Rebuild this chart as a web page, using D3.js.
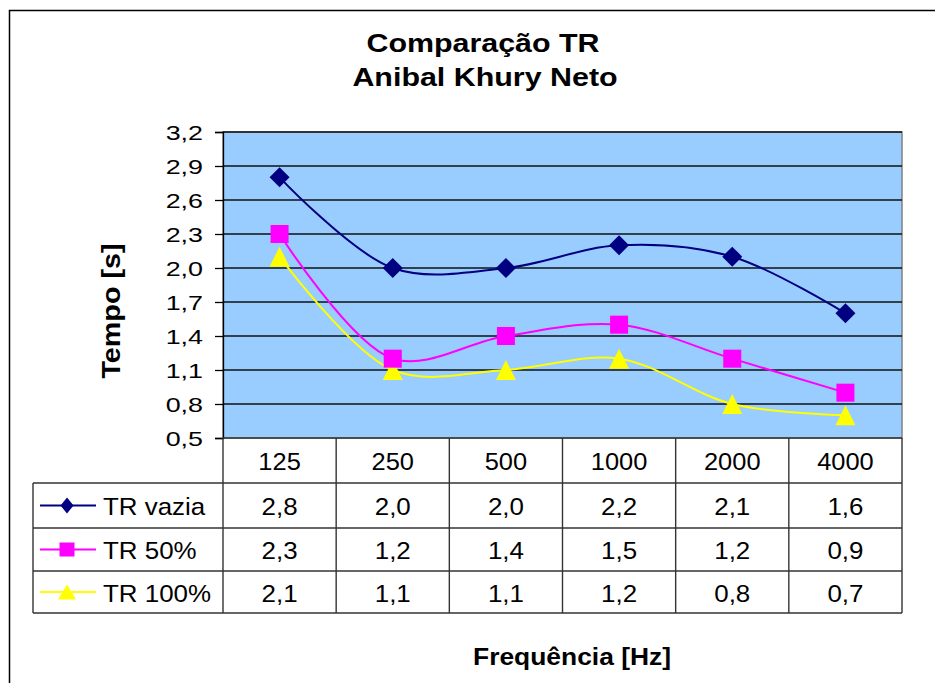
<!DOCTYPE html>
<html>
<head>
<meta charset="utf-8">
<title>Comparação TR</title>
<script src="https://cdn.jsdelivr.net/npm/d3@7"></script>
<style>
  body { margin:0; background:#fff; }
  svg { display:block; font-family:"Liberation Sans", Arial, sans-serif; }
</style>
</head>
<body>
<div id="chart"></div>
<script>
var categories = ["125", "250", "500", "1000", "2000", "4000"];
var seriesNames = ["TR vazia", "TR 50%", "TR 100%"];
var trVazia = [2.8, 2.0, 2.0, 2.2, 2.1, 1.6];
var tr50 = [2.3, 1.2, 1.4, 1.5, 1.2, 0.9];
var tr100 = [2.1, 1.1, 1.1, 1.2, 0.8, 0.7];
var yTicks = [0.5, 0.8, 1.1, 1.4, 1.7, 2.0, 2.3, 2.6, 2.9, 3.2];

// marker shapes (w,h) -> path centred on 0,0
function diamond(w, h) { return "M0," + (-h/2) + "L" + (w/2) + ",0L0," + (h/2) + "L" + (-w/2) + ",0Z"; }
function square(w, h) { return "M" + (-w/2) + "," + (-h/2) + "h" + w + "v" + h + "h" + (-w) + "Z"; }
function triangle(w, h) { return "M0," + (-h/2) + "L" + (w/2) + "," + (h/2) + "L" + (-w/2) + "," + (h/2) + "Z"; }

var series = [
  {name: seriesNames[0], values: trVazia, color: "#000080", shape: diamond, mk: [20, 20], lg: [13, 16]},
  {name: seriesNames[1], values: tr50, color: "#FF00FF", shape: square, mk: [18, 18], lg: [15, 14]},
  {name: seriesNames[2], values: tr100, color: "#FFFF00", shape: triangle, mk: [20, 20], lg: [18, 15]}
];

var W = 935, H = 683;
var plot = {left: 223, right: 902, top: 132, bottom: 438};
var rowY = [438, 483, 528, 571, 613];
var tableLeft = 33;

var svg = d3.select("#chart").append("svg").attr("width", W).attr("height", H);

// text helper: stretched horizontally like the original
function label(g, x, y, txt, size, sx, anchor, bold, rot) {
  var t = g.append("g").attr("transform", "translate(" + x + "," + y + ")" + (rot ? " rotate(" + rot + ")" : "") + " scale(" + sx + ",1)")
    .append("text").attr("text-anchor", anchor || "middle").attr("font-size", size).attr("fill", "#000").text(txt);
  if (bold) t.attr("font-weight", "bold");
  return t;
}

// chart border (open on right and bottom)
svg.append("rect").attr("x", 9.5).attr("y", 10.5).attr("width", 960).attr("height", 700)
  .attr("fill", "#fff").attr("stroke", "#000").attr("stroke-width", 1.5);

var x = d3.scaleBand().domain(categories).range([plot.left, plot.right]);
var y = d3.scaleLinear().domain([0.5, 3.2]).range([plot.bottom, plot.top]);
var cx = function(i) { return x(categories[i]) + x.bandwidth() / 2; };

// plot area
svg.append("rect").attr("x", plot.left).attr("y", plot.top)
  .attr("width", plot.right - plot.left).attr("height", plot.bottom - plot.top)
  .attr("fill", "#99CCFF").attr("stroke", "#808080").attr("stroke-width", 1.5);

// gridlines
svg.append("g").selectAll("line").data(yTicks.slice(1)).enter().append("line")
  .attr("x1", plot.left).attr("x2", plot.right)
  .attr("y1", function(d){ return y(d); }).attr("y2", function(d){ return y(d); })
  .attr("stroke", "#111").attr("stroke-width", 1.3);

// y axis
var fmt = function(d){ return d3.format(".1f")(d).replace(".", ","); };
var yAxis = svg.append("g").attr("transform", "translate(" + plot.left + ",0)")
  .call(d3.axisLeft(y).tickValues(yTicks).tickFormat("").tickSize(8));
yAxis.select(".domain").attr("stroke", "#000").attr("stroke-width", 1.3);
yAxis.selectAll("line").attr("stroke", "#000").attr("stroke-width", 1.3);
var yl = svg.append("g");
yTicks.forEach(function(t) { label(yl, 203, y(t) + 8, fmt(t), 21, 1.28, "end"); });

// table grid
var tbl = svg.append("g").attr("stroke", "#333").attr("stroke-width", 1.4).attr("fill", "none");
tbl.append("line").attr("x1", plot.left).attr("x2", plot.right).attr("y1", rowY[0]).attr("y2", rowY[0]);
for (var i = 1; i < rowY.length; i++) {
  tbl.append("line").attr("x1", tableLeft).attr("x2", plot.right).attr("y1", rowY[i]).attr("y2", rowY[i]);
}
var bounds = categories.map(function(c){ return x(c); }).concat([plot.right]);
bounds.forEach(function(b){
  tbl.append("line").attr("x1", b).attr("x2", b).attr("y1", rowY[0]).attr("y2", rowY[4]);
});
tbl.append("line").attr("x1", tableLeft).attr("x2", tableLeft).attr("y1", rowY[1]).attr("y2", rowY[4]);

// header labels
var hdr = svg.append("g");
categories.forEach(function(c, i) { label(hdr, cx(i), (rowY[0] + rowY[1]) / 2 + 9, c, 24, 1.06); });

// table values and legend
series.forEach(function(s, si) {
  var cy = (rowY[si + 1] + rowY[si + 2]) / 2;
  var g = svg.append("g");
  s.values.forEach(function(v, i) { label(g, cx(i), cy + 9.5, fmt(v), 24, 1.08); });
  g.append("line").attr("x1", 40).attr("x2", 96).attr("y1", cy).attr("y2", cy)
    .attr("stroke", s.color).attr("stroke-width", 2);
  g.append("path").attr("d", s.shape(s.lg[0], s.lg[1]))
    .attr("transform", "translate(67," + cy + ")").attr("fill", s.color);
  label(g, 103, cy + 9.5, s.name, 24, 1.08, "start");
});

// lines
var line = d3.line()
  .x(function(d, i){ return cx(i); })
  .y(function(d){ return y(d); })
  .curve(d3.curveCatmullRom.alpha(0.5));

series.slice().reverse().forEach(function(s) {
  svg.append("path").datum(s.values).attr("d", line)
    .attr("fill", "none").attr("stroke", s.color).attr("stroke-width", 2);
});
series.slice().reverse().forEach(function(s) {
  svg.append("g").selectAll("path").data(s.values).enter().append("path")
    .attr("d", s.shape(s.mk[0], s.mk[1]))
    .attr("transform", function(d, i){ return "translate(" + cx(i) + "," + y(d) + ")"; })
    .attr("fill", s.color);
});

// titles
var tg = svg.append("g");
label(tg, 483, 52, "Comparação TR", 26, 1.17, "middle", true);
label(tg, 485, 86, "Anibal Khury Neto", 26, 1.17, "middle", true);
label(tg, 120, 311, "Tempo [s]", 25, 1.15, "middle", true, -90);
label(tg, 572, 665, "Frequência [Hz]", 24, 1.1, "middle", true);
</script>
</body>
</html>
